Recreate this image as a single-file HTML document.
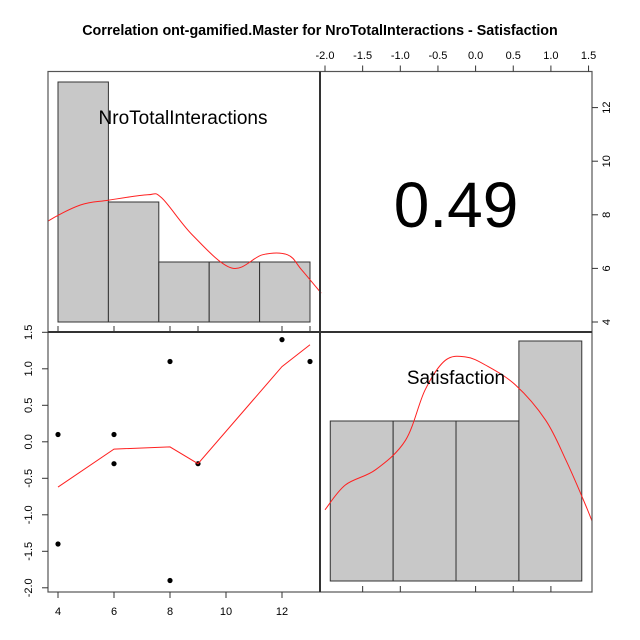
<!DOCTYPE html>
<html><head><meta charset="utf-8"><style>
html,body{margin:0;padding:0;background:#fff;}
svg{display:block;font-family:"Liberation Sans",Arial,sans-serif;}
</style></head><body>
<svg id="c" width="640" height="640" viewBox="0 0 640 640">
<text x="320" y="35" text-anchor="middle" font-size="14.3" font-weight="bold">Correlation ont-gamified.Master for NroTotalInteractions - Satisfaction</text>
</svg>
<script>
// Data
const nroValues = [4,4,6,6,8,8,9,12,13];
const satValues = [0.1,-1.4,0.1,-0.3,1.1,-1.9,-0.3,1.4,1.1];
const nroHistCounts = [4,2,1,1,1];
const satHistCounts = [2,2,2,3];
const loessX = [4,6,8,9,12,13];
const loessY = [-0.62,-0.1,-0.07,-0.3,1.03,1.33];
const nroDensX = [2.9,3.6,4.8,5.8,7.2,7.7,8.8,10.2,11.3,12.2,12.7,13.4];
const nroDensC = [1.4,1.67,1.95,2.03,2.12,2.07,1.45,0.9,1.12,1.12,0.87,0.48];
const satDensX = [-2.0,-1.73,-1.33,-0.93,-0.67,-0.4,-0.13,0.13,0.53,0.93,1.2,1.46,1.62];
const satDensC = [0.89,1.2,1.39,1.76,2.39,2.76,2.8,2.7,2.45,2.01,1.51,0.95,0.57];
const corrText = "0.49";
const xTicksBottom = [4,6,8,10,12];
const yTicksLeft = [-2.0,-1.5,-1.0,-0.5,0.0,0.5,1.0,1.5];
const xTicksTop = [-2.0,-1.5,-1.0,-0.5,0.0,0.5,1.0,1.5];
const yTicksRight = [4,6,8,10,12];

const svg = document.getElementById('c');
const NS = 'http://www.w3.org/2000/svg';
function mk(tag, attrs, parent){const e=document.createElementNS(NS,tag);for(const k in attrs)e.setAttribute(k,attrs[k]);(parent||svg).appendChild(e);return e;}
function smooth(pts){
  let d='M'+pts[0][0]+','+pts[0][1];
  for(let i=0;i<pts.length-1;i++){
    const p0=pts[Math.max(0,i-1)],p1=pts[i],p2=pts[i+1],p3=pts[Math.min(pts.length-1,i+2)];
    const c1=[p1[0]+(p2[0]-p0[0])/6,p1[1]+(p2[1]-p0[1])/6];
    const c2=[p2[0]-(p3[0]-p1[0])/6,p2[1]-(p3[1]-p1[1])/6];
    d+=` C${c1[0]},${c1[1]} ${c2[0]},${c2[1]} ${p2[0]},${p2[1]}`;
  }
  return d;
}

const xN = v => 58 + (v-4)*28;
const yS = v => 441.8 - v*73;
const xS = v => 325 + (v+2)*75.3;
const yNr = v => 322 - (v-4)*26.8;
const yCountTL = c => 322 - c*60;
const yCountBR = c => 581 - c*80;

const edgesN = [4,5.8,7.6,9.4,11.2,13];
nroHistCounts.forEach((c,i)=>{
  const r = mk('rect',{x:xN(edgesN[i]),y:yCountTL(c),width:xN(edgesN[i+1])-xN(edgesN[i]),height:322-yCountTL(c),fill:'#c8c8c8',stroke:'#333','stroke-width':1});
  
  
});
{
  const p = mk('path',{d:smooth(nroDensX.map((x,i)=>[xN(x),yCountTL(nroDensC[i])])),fill:'none',stroke:'#ff2020','stroke-width':1});
  
  
}
const edgesS = [-1.93,-1.095,-0.26,0.575,1.41];
satHistCounts.forEach((c,i)=>{
  const r = mk('rect',{x:xS(edgesS[i]),y:yCountBR(c),width:xS(edgesS[i+1])-xS(edgesS[i]),height:581-yCountBR(c),fill:'#c8c8c8',stroke:'#333','stroke-width':1});
  
  
});
{
  const p = mk('path',{d:smooth(satDensX.map((x,i)=>[xS(x),yCountBR(satDensC[i])])),fill:'none',stroke:'#ff2020','stroke-width':1});
  
  
}
mk('rect',{x:0,y:60,width:48,height:540,fill:'#fff'});
mk('rect',{x:592,y:60,width:48,height:540,fill:'#fff'});

nroValues.forEach((x,i)=>{
  const c = mk('circle',{cx:xN(x),cy:yS(satValues[i]),r:2.6,fill:'#000'});
  
  
});
{
  const p = mk('polyline',{points:loessX.map((x,i)=>xN(x)+','+yS(loessY[i])).join(' '),fill:'none',stroke:'#ff2020','stroke-width':1});
  
  
}

mk('rect',{x:48,y:71.5,width:544,height:520.5,fill:'none',stroke:'#555','stroke-width':1.2});
mk('line',{x1:320,y1:71.5,x2:320,y2:592,stroke:'#333','stroke-width':2});
mk('line',{x1:48,y1:332,x2:592,y2:332,stroke:'#333','stroke-width':2});

xTicksBottom.forEach(v=>{
  mk('line',{x1:xN(v),y1:592,x2:xN(v),y2:598,stroke:'#333'});
  const t = mk('text',{x:xN(v),y:615,'text-anchor':'middle','font-size':11});
  t.textContent=v;
  
  
});
yTicksLeft.forEach(v=>{
  mk('line',{x1:42,y1:yS(v),x2:48,y2:yS(v),stroke:'#333'});
  const t = mk('text',{x:0,y:0,'text-anchor':'middle','font-size':11,transform:`translate(32,${yS(v)}) rotate(-90)`});
  t.textContent=v.toFixed(1);
  
  
});
xTicksTop.forEach(v=>{
  mk('line',{x1:xS(v),y1:65.5,x2:xS(v),y2:71.5,stroke:'#333'});
  const t = mk('text',{x:xS(v),y:59,'text-anchor':'middle','font-size':11});
  t.textContent=v.toFixed(1);
  
  
});
yTicksRight.forEach(v=>{
  mk('line',{x1:592,y1:yNr(v),x2:598,y2:yNr(v),stroke:'#333'});
  const t = mk('text',{x:0,y:0,'text-anchor':'middle','font-size':11,transform:`translate(610,${yNr(v)}) rotate(-90)`});
  t.textContent=v;
  
  
});
[4,6,8,9,12,13].forEach(v=>mk('line',{x1:xN(v),y1:326,x2:xN(v),y2:332,stroke:'#333'}));
[-1.5,-1,0,0.5,1].forEach(v=>mk('line',{x1:xS(v),y1:586,x2:xS(v),y2:592,stroke:'#333'}));

{
  let t = mk('text',{x:183,y:124,'text-anchor':'middle','font-size':19});
  t.textContent='NroTotalInteractions';
  
  
  t = mk('text',{x:456,y:384,'text-anchor':'middle','font-size':19});
  t.textContent='Satisfaction';
  
  
  t = mk('text',{x:456,y:227,'text-anchor':'middle','font-size':64});
  t.textContent=corrText;
  
  
}
</script>
</body></html>
